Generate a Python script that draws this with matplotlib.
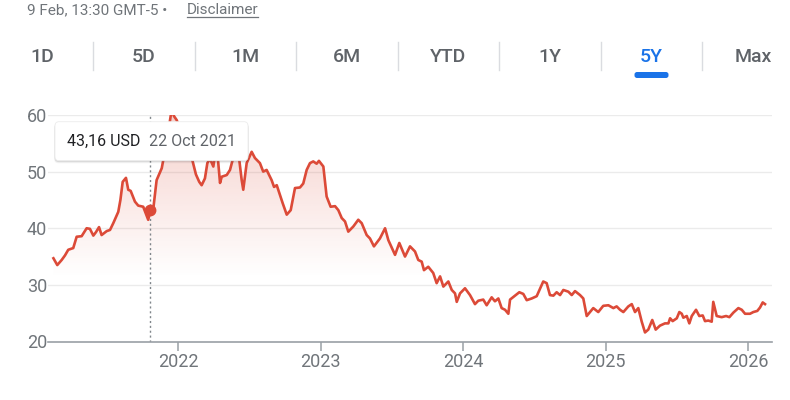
import numpy as np
import matplotlib
matplotlib.use('Agg')
from matplotlib import pyplot as plt
from matplotlib.patches import FancyBboxPatch
from matplotlib.lines import Line2D
from matplotlib.transforms import IdentityTransform

plt.rcParams['font.family'] = ['Roboto', 'DejaVu Sans']

# closing prices, time as decimal year
years = [
    2021.124, 2021.151, 2021.182, 2021.205, 2021.228, 2021.263, 2021.287, 2021.322, 2021.357, 2021.380,
    2021.404, 2021.422, 2021.444, 2021.462, 2021.498, 2021.521, 2021.544, 2021.579, 2021.594, 2021.610,
    2021.633, 2021.649, 2021.666, 2021.696, 2021.719, 2021.754, 2021.789, 2021.805, 2021.825, 2021.848,
    2021.884, 2021.919, 2021.954, 2021.970, 2021.989, 2022.012, 2022.040, 2022.068, 2022.101, 2022.124,
    2022.147, 2022.164, 2022.187, 2022.204, 2022.222, 2022.246, 2022.261, 2022.279, 2022.293, 2022.305,
    2022.340, 2022.363, 2022.386, 2022.405, 2022.426, 2022.445, 2022.456, 2022.480, 2022.515, 2022.538,
    2022.573, 2022.596, 2022.620, 2022.655, 2022.672, 2022.691, 2022.733, 2022.761, 2022.789, 2022.819,
    2022.854, 2022.877, 2022.901, 2022.924, 2022.947, 2022.971, 2022.987, 2023.018, 2023.041, 2023.069,
    2023.100, 2023.123, 2023.147, 2023.170, 2023.193, 2023.228, 2023.263, 2023.287, 2023.322, 2023.345,
    2023.373, 2023.415, 2023.451, 2023.474, 2023.521, 2023.551, 2023.591, 2023.626, 2023.661, 2023.684,
    2023.708, 2023.724, 2023.754, 2023.789, 2023.813, 2023.837, 2023.860, 2023.895, 2023.919, 2023.942,
    2023.954, 2023.977, 2024.012, 2024.047, 2024.082, 2024.105, 2024.140, 2024.164, 2024.199, 2024.222,
    2024.246, 2024.269, 2024.293, 2024.316, 2024.328, 2024.363, 2024.393, 2024.421, 2024.445, 2024.480,
    2024.515, 2024.561, 2024.585, 2024.608, 2024.632, 2024.655, 2024.679, 2024.702, 2024.737, 2024.761,
    2024.784, 2024.819, 2024.842, 2024.866, 2024.889, 2024.912, 2024.947, 2024.982, 2025.018, 2025.053,
    2025.076, 2025.100, 2025.123, 2025.158, 2025.182, 2025.205, 2025.228, 2025.252, 2025.275, 2025.298,
    2025.326, 2025.350, 2025.380, 2025.415, 2025.439, 2025.451, 2025.469, 2025.498, 2025.516, 2025.533,
    2025.544, 2025.568, 2025.586, 2025.603, 2025.633, 2025.656, 2025.680, 2025.696, 2025.719, 2025.743,
    2025.754, 2025.778, 2025.813, 2025.844, 2025.867, 2025.895, 2025.930, 2025.954, 2025.977, 2026.012,
    2026.035, 2026.063, 2026.082, 2026.101, 2026.117,
]
prices = [
    34.7, 33.5, 34.4, 35.2, 36.2, 36.5, 38.5, 38.6, 40.0, 39.9,
    38.7, 39.3, 40.2, 38.8, 39.5, 39.7, 40.9, 42.9, 45.0, 48.2,
    48.9, 46.8, 46.6, 44.7, 44.0, 43.8, 41.5, 43.16, 43.5, 48.5,
    50.6, 55.3, 61.0, 59.8, 59.1, 57.5, 55.0, 54.5, 51.8, 49.5,
    48.2, 47.6, 48.8, 51.5, 52.3, 50.9, 53.5, 52.0, 48.0, 49.1,
    49.4, 50.3, 52.5, 55.0, 52.5, 48.5, 46.8, 51.5, 53.5, 52.4,
    51.5, 50.0, 50.3, 48.5, 47.3, 47.6, 44.4, 42.4, 43.2, 47.1,
    47.2, 47.9, 50.3, 51.5, 51.8, 51.4, 51.9, 50.9, 45.6, 43.8,
    43.9, 43.2, 41.8, 41.2, 39.4, 40.3, 41.5, 40.9, 38.8, 38.2,
    36.8, 38.2, 40.0, 37.9, 35.3, 37.4, 35.0, 36.8, 35.9, 34.4,
    34.1, 32.6, 33.2, 32.1, 30.3, 31.5, 29.7, 30.6, 29.1, 28.5,
    27.0, 28.5, 29.4, 28.2, 26.6, 27.2, 27.4, 26.4, 27.8, 27.1,
    27.6, 25.9, 25.6, 24.9, 27.4, 28.1, 28.7, 28.4, 27.3, 27.6,
    28.0, 30.6, 30.3, 28.2, 28.1, 28.7, 28.2, 29.1, 28.8, 28.2,
    28.9, 28.2, 27.6, 24.5, 25.2, 25.9, 25.2, 26.3, 26.4, 25.9,
    26.2, 25.6, 25.2, 26.2, 26.6, 25.2, 25.9, 23.5, 21.6, 22.1,
    23.8, 22.1, 22.8, 23.2, 23.2, 24.1, 23.6, 24.1, 25.2, 24.9,
    24.2, 24.5, 23.2, 24.5, 25.6, 24.5, 24.6, 23.6, 23.7, 23.5,
    27.0, 24.5, 24.3, 24.5, 24.3, 25.1, 25.9, 25.6, 24.9, 24.9,
    25.2, 25.4, 26.0, 26.9, 26.6,
]

year_ticks = [2022, 2023, 2024, 2025, 2026]
price_ticks = [20, 30, 40, 50, 60]

hover_year = 2021.805
hover_price = 43.16
hover_value = '43,16 USD'
hover_date = '22 Oct 2021'

header = '9 Feb, 13:30 GMT-5 • '
header_link = 'Disclaimer'
tabs = ['1D', '5D', '1M', '6M', 'YTD', '1Y', '5Y', 'Max']
active_tab = '5Y'

RED = '#dc4a38'
GREY = '#70757a'
BLUE = '#1a73e8'
W, H = 790, 400


def fx(px):
    return px / W


def fy(py):
    # py measured from the top of the image
    return 1 - py / H


fig = plt.figure(figsize=(W / 100, H / 100), dpi=100)
ax = fig.add_axes([fx(48.3), fy(341.5), fx(771.7 - 48.3), (341.5 - 115) / H])

xmin, xmax = 2021.088, 2026.164

# gradient fill under the line
fill = ax.fill_between(years, prices, 20, facecolor='none', edgecolor='none')
grad = np.zeros((256, 1, 4))
grad[..., :3] = matplotlib.colors.to_rgb(RED)
grad[:, 0, 3] = np.clip(np.linspace(-0.1, 0.26, 256), 0, None)
img = ax.imshow(grad, extent=[xmin, xmax, 20, 60], origin='lower', aspect='auto',
                zorder=1, interpolation='bilinear')
img.set_clip_path(fill.get_paths()[0], ax.transData)

ax.plot(years, prices, color=RED, lw=1.9, zorder=3, solid_joinstyle='round')

ax.axvline(hover_year, color='#80868b', lw=1, ls=(0, (1.5, 2)), zorder=2)
ax.plot(hover_year, hover_price, 'o', ms=7.5, color=RED, zorder=4)

ax.set_xlim(xmin, xmax)
ax.set_ylim(20, 60)
ax.set_xticks(year_ticks)
ax.set_xticklabels([str(y) for y in year_ticks])
ax.set_yticks(price_ticks)
ax.grid(axis='y', color='#ebebeb', lw=1)
ax.set_axisbelow(True)
for side in ['top', 'right', 'left']:
    ax.spines[side].set_visible(False)
ax.spines['bottom'].set_color('#9aa0a6')
ax.spines['bottom'].set_linewidth(1.2)
ax.spines['bottom'].set_zorder(5)
ax.tick_params(axis='x', length=6.5, width=1.1, color='#9aa0a6', labelsize=13,
               labelcolor=GREY, pad=2)
ax.tick_params(axis='y', length=0, labelsize=13, labelcolor=GREY, pad=1)

# tooltip
bx0, by0, bx1, by1 = 55, 121.7, 248, 160.7
for off, a in [(2.5, 0.05), (1.5, 0.07), (0.7, 0.09)]:
    sh = FancyBboxPatch((bx0 - off * 0.3, H - by1 - off), bx1 - bx0 + off * 0.6, by1 - by0,
                        boxstyle='round,pad=0,rounding_size=4', transform=IdentityTransform(),
                        facecolor='black', edgecolor='none', alpha=a, zorder=5)
    fig.add_artist(sh)
box = FancyBboxPatch((bx0, H - by1), bx1 - bx0, by1 - by0,
                     boxstyle='round,pad=0,rounding_size=4', transform=IdentityTransform(),
                     facecolor='white', edgecolor='#ececec', lw=0.6, zorder=6)
fig.add_artist(box)
fig.text(fx(66.7), fy(141.3), hover_value, fontsize=11.5, color='#202124', va='center', zorder=7)
fig.text(fx(149.3), fy(141.3), hover_date, fontsize=11.5, color='#5f6368', va='center', zorder=7)

# header line
fig.text(fx(27), fy(10), header, fontsize=11, color=GREY, va='center')
link = fig.text(fx(186.7), fy(10), header_link, fontsize=11, color=GREY, va='center')

# range tabs
centers = np.linspace(42.5, 753, len(tabs))
for name, cx in zip(tabs, centers):
    fig.text(fx(cx), fy(57), name, fontsize=14, fontweight='medium', ha='center', va='center',
             color=BLUE if name == active_tab else '#5f6368')
for sx in (centers[:-1] + centers[1:]) / 2:
    fig.add_artist(Line2D([fx(sx), fx(sx)], [fy(42), fy(70)], color='#dadce0', lw=1))
ai = tabs.index(active_tab)
fig.add_artist(FancyBboxPatch((centers[ai] - 17, H - 78), 34, 6,
                              boxstyle='round,pad=0,rounding_size=2.5', transform=IdentityTransform(),
                              facecolor=BLUE, edgecolor='none'))

# underline the link
fig.canvas.draw()
bb = link.get_window_extent()
fig.add_artist(Line2D([bb.x0, bb.x1], [bb.y0 + 0.5, bb.y0 + 0.5], transform=IdentityTransform(),
                      color=GREY, lw=0.9))

fig.savefig('out.png', dpi=100)
